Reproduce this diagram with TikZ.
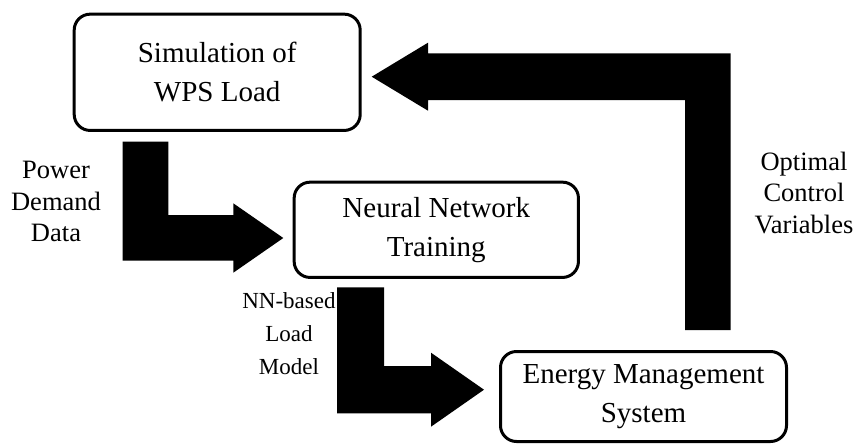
\documentclass[tikz,border=0pt]{standalone}
\usepackage{fontspec}
\setmainfont{Liberation Serif}
\begin{document}
\begin{tikzpicture}[x=1pt,y=-1pt,
  procbox/.style={draw=black, line width=3pt, rounded corners=16pt, inner sep=0pt,
    align=center, font=\fontsize{29}{39}\selectfont},
  flowlabel/.style={align=center, inner sep=0pt, font=\fontsize{26.5}{31.5}\selectfont},
  blockarrow/.style={fill=black, draw=none}]
\useasboundingbox (0,0) rectangle (857,445);

% process boxes
\node[procbox, minimum width=286pt, minimum height=116.3pt] (sim) at (217.2,72.3)
  {Simulation of\\WPS Load};
\node[procbox, minimum width=284.3pt, minimum height=95.3pt] (nn) at (436.3,229.8)
  {Neural Network\\Training};
\node[procbox, minimum width=286pt, minimum height=90pt] (ems) at (643.5,396.5)
  {Energy Management\\System};

% bent block arrows
\fill[blockarrow] (122.7,141.7) -- (168.3,141.7) -- (168.3,215) -- (233.3,215)
  -- (233.3,203.3) -- (283.3,238) -- (233.3,272.7) -- (233.3,260.7)
  -- (122.7,260.7) -- cycle;
\fill[blockarrow] (337,287.3) -- (384,287.3) -- (384,366) -- (431,366)
  -- (431,352.7) -- (484,389.7) -- (431,426.7) -- (431,413.3)
  -- (337,413.3) -- cycle;
\fill[blockarrow] (685,330) -- (730.7,330) -- (730.7,53.3) -- (428,53.3)
  -- (428,42.7) -- (371.7,76.7) -- (428,110.7) -- (428,100)
  -- (685,100) -- cycle;

% arrow labels
\node[flowlabel] (lpower) at (56,201.5) {Power\\Demand\\Data};
\node[flowlabel, font=\fontsize{23}{33}\selectfont] (lnn) at (289,334) {NN-based\\Load\\Model};
\node[flowlabel] (lopt) at (804,193) {Optimal\\Control\\Variables};
\end{tikzpicture}
\end{document}
